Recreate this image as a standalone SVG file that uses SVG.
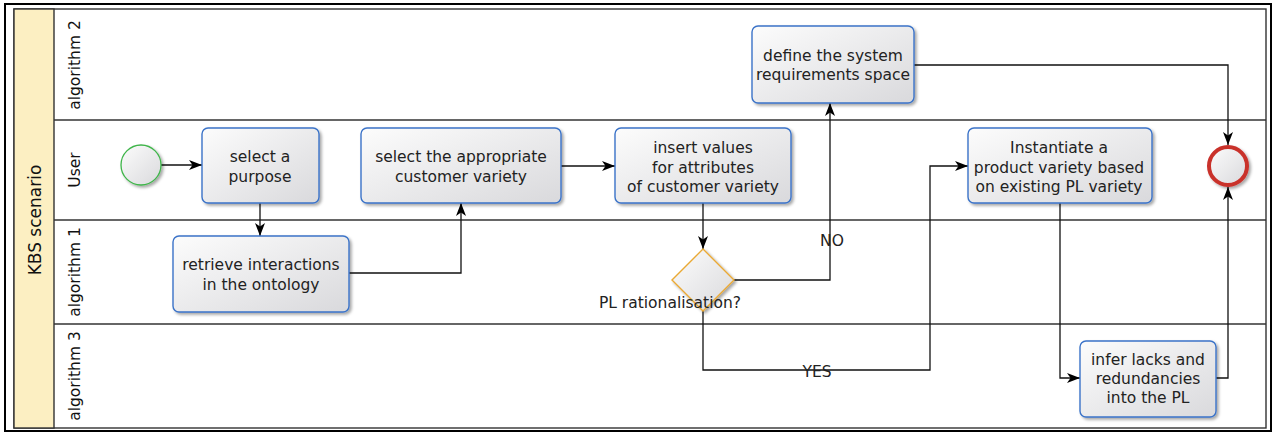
<svg xmlns="http://www.w3.org/2000/svg" width="1275" height="434" viewBox="0 0 1275 434">
<defs>
<linearGradient id="gFill" x1="0" y1="0" x2="1" y2="1">
<stop offset="0" stop-color="#fcfcfc"/>
<stop offset="1" stop-color="#d9d9dc"/>
</linearGradient>
<filter id="shadow" x="-10%" y="-10%" width="130%" height="130%">
<feDropShadow dx="2" dy="2" stdDeviation="1.6" flood-color="#000" flood-opacity="0.35"/>
</filter>
<marker id="arrow" viewBox="0 0 13 10" refX="13" refY="5" markerWidth="13" markerHeight="10" markerUnits="userSpaceOnUse" orient="auto">
<path d="M0,0 L13,5 L0,10 L3.5,5 Z" fill="#000"/>
</marker>
<style>
.txt{font-family:"DejaVu Sans","Liberation Sans",sans-serif;font-size:15.5px;fill:#222;text-anchor:middle}
.lane{font-family:"DejaVu Sans","Liberation Sans",sans-serif;font-size:15.5px;fill:#111;text-anchor:middle}
.task{fill:url(#gFill);stroke:#3b73c8;stroke-width:1.4;filter:url(#shadow)}
.conn{fill:none;stroke:#111;stroke-width:1.3;marker-end:url(#arrow)}
.sep{stroke:#333;stroke-width:1.4;fill:none}
</style>
</defs>
<rect x="0" y="0" width="1275" height="434" fill="#fff"/>
<rect x="5" y="4" width="1266" height="427" fill="none" stroke="#000" stroke-width="2"/>
<g id="pool">
<rect x="14" y="9" width="1252" height="419" fill="#fff" stroke="#333" stroke-width="1.4"/>
<rect x="14" y="9" width="40" height="419" fill="#fcefc2" stroke="#333" stroke-width="1.4"/>
<text transform="translate(41,220) rotate(-90)" font-family="DejaVu Sans, Liberation Sans, sans-serif" font-size="17" fill="#111" text-anchor="middle">KBS scenario</text>
</g>
<g id="lanes">
<line class="sep" x1="54" y1="120" x2="1266" y2="120"/>
<line class="sep" x1="54" y1="220" x2="1266" y2="220"/>
<line class="sep" x1="54" y1="324" x2="1266" y2="324"/>
<text class="lane" transform="translate(80,65) rotate(-90)">algorithm 2</text>
<text class="lane" transform="translate(80,170) rotate(-90)">User</text>
<text class="lane" transform="translate(80,272) rotate(-90)">algorithm 1</text>
<text class="lane" transform="translate(80,376) rotate(-90)">algorithm 3</text>
</g>
<g id="connectors">
<path class="conn" d="M161,165 L202,165"/>
<path class="conn" d="M260,203 L260,236"/>
<path class="conn" d="M349,273 L461,273 L461,203"/>
<path class="conn" d="M561,166 L615,166"/>
<path class="conn" d="M703,203 L703,249"/>
<path class="conn" d="M734,280 L830,280 L830,103"/>
<path class="conn" d="M703,311 L703,370 L930,370 L930,166 L968,166"/>
<path class="conn" d="M914,65 L1228,65 L1228,145"/>
<path class="conn" d="M1060,203 L1060,378 L1080,378"/>
<path class="conn" d="M1216,378 L1228,378 L1228,187"/>
<text class="txt" x="832" y="246">NO</text>
<text class="txt" x="817" y="377">YES</text>
</g>
<g id="start">
<circle cx="141" cy="165" r="20" fill="url(#gFill)" stroke="#3fb54a" stroke-width="1.3" filter="url(#shadow)"/>
</g>
<g id="selectPurpose">
<rect class="task" x="202" y="128" width="117" height="75" rx="6"/>
<text class="txt" x="260" y="162">select a</text>
<text class="txt" x="260" y="182">purpose</text>
</g>
<g id="retrieve">
<rect class="task" x="173" y="236" width="176" height="76" rx="6"/>
<text class="txt" x="261" y="270">retrieve interactions</text>
<text class="txt" x="261" y="290">in the ontology</text>
</g>
<g id="selectVariety">
<rect class="task" x="361" y="128" width="200" height="75" rx="6"/>
<text class="txt" x="461" y="162">select the appropriate</text>
<text class="txt" x="461" y="182">customer variety</text>
</g>
<g id="insertValues">
<rect class="task" x="615" y="128" width="176" height="75" rx="6"/>
<text class="txt" x="703" y="153">insert values</text>
<text class="txt" x="703" y="173">for attributes</text>
<text class="txt" x="703" y="192">of customer variety</text>
</g>
<g id="gateway">
<path d="M703,249 L734,280 L703,311 L672,280 Z" fill="url(#gFill)" stroke="#eaa935" stroke-width="1.4" filter="url(#shadow)"/>
<text class="txt" x="670" y="308">PL rationalisation?</text>
</g>
<g id="defineSpace">
<rect class="task" x="752" y="26" width="162" height="77" rx="6"/>
<text class="txt" x="833" y="61">define the system</text>
<text class="txt" x="833" y="80">requirements space</text>
</g>
<g id="instantiate">
<rect class="task" x="968" y="128" width="184" height="75" rx="6"/>
<text class="txt" x="1059" y="153">Instantiate a</text>
<text class="txt" x="1059" y="173">product variety based</text>
<text class="txt" x="1059" y="192">on existing PL variety</text>
</g>
<g id="infer">
<rect class="task" x="1080" y="341" width="136" height="76" rx="6"/>
<text class="txt" x="1148" y="365">infer lacks and</text>
<text class="txt" x="1148" y="384">redundancies</text>
<text class="txt" x="1148" y="403">into the PL</text>
</g>
<g id="end">
<circle cx="1228" cy="166" r="19" fill="url(#gFill)" stroke="#c9302c" stroke-width="4" filter="url(#shadow)"/>
</g>
</svg>
